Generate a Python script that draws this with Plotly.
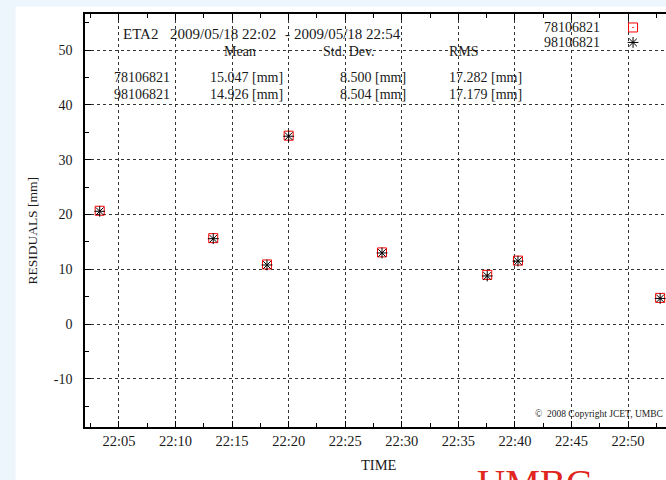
import plotly.graph_objects as go

# ---- data ----
times = ["2009-05-18 22:03:18", "2009-05-18 22:13:20", "2009-05-18 22:18:05",
         "2009-05-18 22:20:00", "2009-05-18 22:28:15", "2009-05-18 22:37:33",
         "2009-05-18 22:40:16", "2009-05-18 22:52:50"]
res_78106821 = [20.7, 15.7, 10.9, 34.4, 13.1, 9.0, 11.6, 4.8]
res_98106821 = [20.6, 15.6, 10.8, 34.3, 13.0, 8.8, 11.5, 4.7]
series_names = ["78106821", "98106821"]
y_ticks = [-10, 0, 10, 20, 30, 40, 50]
y_ticklabels = ["-10", "0", "10", "20", "30", "40", "50"]
stats_header = ["Mean", "Std. Dev.", "RMS"]
stats_rows = [["78106821", "15.047 [mm]", "8.500 [mm]", "17.282 [mm]"],
              ["98106821", "14.926 [mm]", "8.504 [mm]", "17.179 [mm]"]]

W, H = 666, 480
L, T, B = 84.5, 13.5, 427.3
R = 666.0
PW, PH = R - L, B - T

def px(x):
    return (x - L) / PW

def py(y):
    return 1 - (y - T) / PH

SERIF = "Liberation Serif, Times New Roman, serif"
TXT = "#1a1a1a"

fig = go.Figure()
fig.add_trace(go.Scatter(
    x=times, y=res_78106821, mode="markers", name="", legend="legend",
    marker=dict(symbol="square-open-dot", size=9, color="red", line=dict(width=1, color="red")),
))
fig.add_trace(go.Scatter(
    x=times, y=res_98106821, mode="markers", name="", legend="legend2",
    marker=dict(symbol="asterisk-open", size=9, color="black", line=dict(width=1, color="black")),
))

ann = []
def add(text, x, y, size=14, xanchor="left", yanchor="middle", color=TXT, angle=0):
    ann.append(dict(text=text, x=px(x), y=py(y), xref="paper", yref="paper",
                    xanchor=xanchor, yanchor=yanchor, showarrow=False, textangle=angle,
                    font=dict(family=SERIF, size=size, color=color)))

# header line
add("ETA2", 121, 34, 15)
add("2009/05/18 22:02", 278, 34, 15, xanchor="right")
add("-", 287, 34, 15, xanchor="center")
add("2009/05/18 22:54", 403, 34, 15, xanchor="right")
# stats header
for t, cx in zip(stats_header, [240, 349, 464]):
    add(t, cx, 51, 14, xanchor="center")
# stats rows
for row, yy in zip(stats_rows, [77, 94.5]):
    add(row[0], 172, yy, 14, xanchor="right")
    add(row[1], 285, yy, 14, xanchor="right")
    add(row[2], 408, yy, 14, xanchor="right")
    add(row[3], 447, yy, 14, xanchor="left")
# legend texts
add(series_names[0], 602, 27, 14, xanchor="right")
add(series_names[1], 602, 42, 14, xanchor="right")
# axis titles
add("TIME", 379, 465, 14.5, xanchor="center")
add("RESIDUALS [mm]", 32, 231, 13.5, xanchor="center", angle=-90)
# copyright
add("\u00a9  2008 Copyright JCET, UMBC", 665, 414, 9.5, xanchor="right")
# UMBC logo text
add("UMBC", 475, 484, 39, xanchor="left", yanchor="middle", color="#e0261e")

leg_common = dict(xanchor="left", yanchor="middle", bgcolor="rgba(0,0,0,0)",
                  font=dict(size=8), itemwidth=30, borderwidth=0)

fig.update_layout(
    width=W, height=H,
    margin=dict(l=L, r=0, t=T, b=H - B, pad=0),
    paper_bgcolor="#edf5fd",
    plot_bgcolor="white",
    showlegend=True,
    legend=dict(x=px(613), y=py(27), **leg_common),
    legend2=dict(x=px(613), y=py(42), **leg_common),
    annotations=ann,
    shapes=[dict(type="rect", xref="paper", yref="paper", x0=px(15), x1=px(700),
                 y0=py(520), y1=py(6), fillcolor="white", line=dict(width=0), layer="below")],
    xaxis=dict(
        type="date",
        range=["2009-05-18 22:02:00", "2009-05-18 22:53:21"],
        tick0="2009-05-18 22:00:00", dtick=300000, tickformat="%H:%M",
        ticks="inside", ticklen=6, tickcolor="black",
        showline=True, linecolor="black", linewidth=1.5, mirror="ticks",
        showgrid=True, gridcolor="#333", griddash="dot", gridwidth=1,
        zeroline=False,
        tickfont=dict(family=SERIF, size=14.5, color=TXT),
        minor=dict(dtick=150000, tick0="2009-05-18 22:00:00", ticks="inside", ticklen=4,
                   tickcolor="black", showgrid=False),
    ),
    yaxis=dict(
        range=[-18.76, 56.6], tickmode="array", tickvals=y_ticks, ticktext=y_ticklabels,
        ticks="inside", ticklen=6, tickcolor="black",
        showline=True, linecolor="black", linewidth=1.5, mirror=False,
        showgrid=True, gridcolor="#333", griddash="dot", gridwidth=1,
        zeroline=False,
        tickfont=dict(family=SERIF, size=14, color=TXT),
        ticklabelstandoff=8,
        minor=dict(dtick=5, tick0=0, ticks="inside", ticklen=4, tickcolor="black", showgrid=False),
    ),
)

fig.write_html("out.html")
